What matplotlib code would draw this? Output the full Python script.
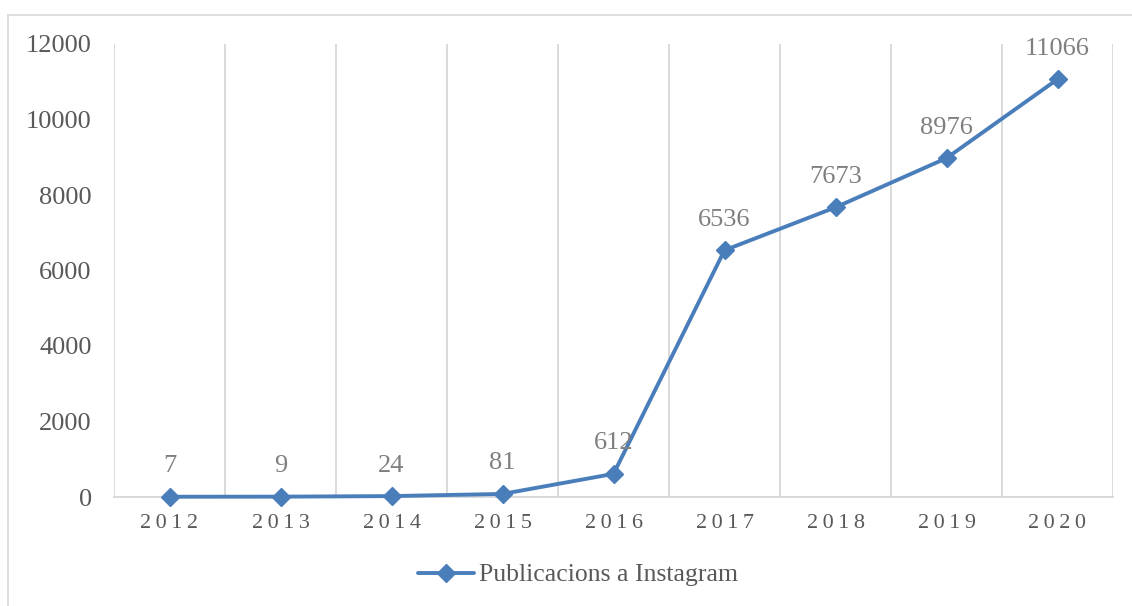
import matplotlib
matplotlib.use("Agg")
import matplotlib.pyplot as plt
from matplotlib.lines import Line2D

years = ["2012", "2013", "2014", "2015", "2016", "2017", "2018", "2019", "2020"]
posts = [7, 9, 24, 81, 612, 6536, 7673, 8976, 11066]
series_name = "Publicacions a Instagram"
y_ticks = [0, 2000, 4000, 6000, 8000, 10000, 12000]

line_color = "#4a7ebb"
grid_color = "#d9d9d9"
text_color = "#595959"
label_color = "#7f7f7f"
font = ["Liberation Serif", "DejaVu Serif"]

plt.rcParams["font.family"] = font

W, H = 1132, 606
fig = plt.figure(figsize=(W / 100, H / 100), dpi=100)
fig.patch.set_facecolor("white")

# chart frame (top and left edges)
fig.add_artist(Line2D([8 / W, 1.0], [1 - 15 / H, 1 - 15 / H], color=grid_color, lw=1.2, transform=fig.transFigure))
fig.add_artist(Line2D([8 / W, 8 / W], [0, 1 - 15 / H], color=grid_color, lw=1.2, transform=fig.transFigure))

left, right = 114 / W, 1113 / W
bottom, top = 1 - 497 / H, 1 - 44 / H
ax = fig.add_axes([left, bottom, right - left, top - bottom])

x = list(range(1, len(years) + 1))
ax.plot(x, posts, color=line_color, lw=2.8, marker="D", markersize=9,
        markerfacecolor=line_color, markeredgecolor=line_color, label=series_name,
        solid_capstyle="round", zorder=3, clip_on=False)

for xi, v in zip(x, posts):
    ax.annotate(f"{v}", (xi, v), xytext=(0, 14), textcoords="offset points",
                ha="center", va="bottom", fontsize=19, color=label_color)

ax.set_xlim(0.5, len(years) + 0.5)
ax.set_ylim(0, 12000)
ax.set_yticks(y_ticks)
ax.set_yticklabels([str(t) for t in y_ticks])
ax.set_xticks(x)
ax.set_xticklabels(["\u2009".join(y) for y in years])
ax.set_xticks([i + 0.5 for i in range(0, len(years) + 1)], minor=True)
ax.grid(True, which="minor", axis="x", color=grid_color, lw=1.4)
ax.grid(False, which="major")
ax.tick_params(axis="both", which="both", length=0)
ax.tick_params(axis="y", pad=16, labelsize=19, labelcolor=text_color)
ax.tick_params(axis="x", pad=12, labelsize=16, labelcolor=text_color)
for s in ["top", "right", "left"]:
    ax.spines[s].set_visible(False)
ax.spines["bottom"].set_color(grid_color)
ax.spines["bottom"].set_linewidth(1.4)

fig.legend(loc="center", bbox_to_anchor=(578 / W, 1 - 575 / H), frameon=False,
           fontsize=18.5, labelcolor=text_color, handlelength=2.2, handletextpad=0.2)

fig.savefig("out.png", dpi=100)
